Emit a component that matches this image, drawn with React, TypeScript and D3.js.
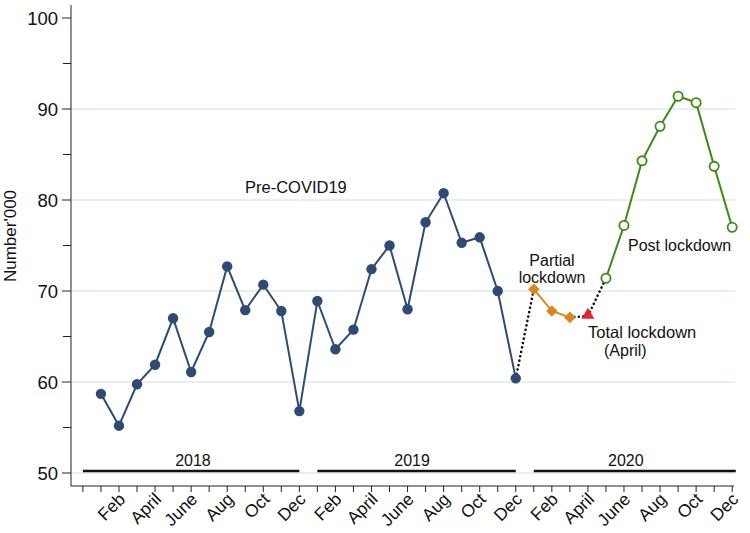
import { useEffect, useRef } from 'react';
import * as d3 from 'd3';

// month index 0 = Jan 2018 ... 35 = Dec 2020
const preCovid = [
  58.7, 55.2, 59.75, 61.9, 67.0, 61.1, 65.5, 72.7, 67.9, 70.7, 67.8, 56.8,
  68.9, 63.6, 65.75, 72.4, 75.0, 68.0, 77.55, 80.75, 75.3, 75.9, 70.0, 60.4,
];
const partial = [70.2, 67.8, 67.1]; // Jan-Mar 2020
const totalLockdown = 67.25; // Apr 2020
const postLockdown = [71.4, 77.2, 84.3, 88.1, 91.4, 90.7, 83.7, 77.0]; // May-Dec 2020

const monthLabels = ['Feb', 'April', 'June', 'Aug', 'Oct', 'Dec'];
const years = ['2018', '2019', '2020'];
const yearBarStart = [-1, 12, 24];
const yearBarEnd = [11, 23, 35.2];
const yearLabelPos = [5.1, 17.25, 29.1];
const yTicks = [50, 60, 70, 80, 90, 100];
const yMinor = [55, 65, 75, 85, 95];

const FONT = 'Liberation Sans, Arial, sans-serif';
const BLUE = '#2f4a75';
const ORANGE = '#d6891c';
const GREEN = '#3d8a15';
const RED = '#e8212b';

const App = () => {
  const svgRef = useRef<SVGSVGElement | null>(null);
  const width = 750;
  const height = 533;

  useEffect(() => {
    const svg = d3.select(svgRef.current);
    svg.selectAll('*').remove();

    const x = d3.scaleLinear().domain([-1.66, 35.1]).range([71, 734]);
    const y = d3.scaleLinear().domain([50, 100]).range([473, 18]);
    const yBottom = 486;
    const yTop = 5;

    // gridlines
    svg.append('g')
      .selectAll('line')
      .data(yTicks.filter(v => v < 100))
      .enter()
      .append('line')
      .attr('x1', 72)
      .attr('x2', 735)
      .attr('y1', d => y(d))
      .attr('y2', d => y(d))
      .attr('stroke', '#e1eaef')
      .attr('stroke-width', 1.4);

    // y axis
    const yAxis = svg.append('g');
    yAxis.append('line')
      .attr('x1', 71).attr('x2', 71)
      .attr('y1', yTop).attr('y2', yBottom)
      .attr('stroke', '#222').attr('stroke-width', 1);
    yAxis.selectAll('.ymaj')
      .data(yTicks)
      .enter()
      .append('line')
      .attr('x1', 62).attr('x2', 71)
      .attr('y1', d => y(d)).attr('y2', d => y(d))
      .attr('stroke', '#222');
    yAxis.selectAll('.ymin')
      .data(yMinor)
      .enter()
      .append('line')
      .attr('x1', 63).attr('x2', 71)
      .attr('y1', d => y(d)).attr('y2', d => y(d))
      .attr('stroke', '#222');
    yAxis.selectAll('text')
      .data(yTicks)
      .enter()
      .append('text')
      .attr('x', 58)
      .attr('y', d => y(d))
      .attr('dy', '0.36em')
      .attr('text-anchor', 'end')
      .attr('font-family', FONT)
      .attr('font-size', 18.5)
      .attr('fill', '#111')
      .text(d => d);

    svg.append('text')
      .attr('transform', 'translate(16, 236) rotate(-90)')
      .attr('text-anchor', 'middle')
      .attr('font-family', FONT)
      .attr('font-size', 17)
      .attr('fill', '#111')
      .text("Number'000");

    // x axis
    const xAxis = svg.append('g');
    xAxis.append('line')
      .attr('x1', 71).attr('x2', 734)
      .attr('y1', yBottom).attr('y2', yBottom)
      .attr('stroke', '#222');
    const tickIdx = d3.range(-1, 36);
    xAxis.selectAll('.xt')
      .data(tickIdx)
      .enter()
      .append('line')
      .attr('x1', d => x(d)).attr('x2', d => x(d))
      .attr('y1', yBottom).attr('y2', yBottom + 6)
      .attr('stroke', '#222');
    const labelIdx = d3.range(0, 3).flatMap(yr => monthLabels.map((m, k) => ({ m, i: yr * 12 + 1 + k * 2 })));
    xAxis.selectAll('text')
      .data(labelIdx)
      .enter()
      .append('text')
      .attr('transform', d => `translate(${x(d.i) + 3}, ${yBottom + 10}) rotate(-45)`)
      .attr('text-anchor', 'end')
      .attr('dy', '0.35em')
      .attr('font-family', FONT)
      .attr('font-size', 17.5)
      .attr('fill', '#111')
      .text(d => d.m);

    // year bars
    years.forEach((yr, k) => {
      svg.append('line')
        .attr('x1', x(yearBarStart[k]))
        .attr('x2', x(yearBarEnd[k]))
        .attr('y1', 471).attr('y2', 471)
        .attr('stroke', '#111')
        .attr('stroke-width', 2.6);
      svg.append('text')
        .attr('x', x(yearLabelPos[k]))
        .attr('y', 466)
        .attr('text-anchor', 'middle')
        .attr('font-family', FONT)
        .attr('font-size', 16)
        .attr('fill', '#111')
        .text(yr);
    });

    const line = d3.line<[number, number]>().x(d => x(d[0])).y(d => y(d[1]));

    // dotted connectors
    const dotted: [number, number][][] = [
      [[23, preCovid[23]], [24, partial[0]]],
      [[26, partial[2]], [27, totalLockdown]],
      [[27, totalLockdown], [28, postLockdown[0]]],
    ];
    dotted.forEach(seg => {
      svg.append('path')
        .attr('d', line(seg))
        .attr('fill', 'none')
        .attr('stroke', '#111')
        .attr('stroke-width', 2.6)
        .attr('stroke-linecap', 'round')
        .attr('stroke-dasharray', '0.1 4.4');
    });

    // pre-covid
    const pre: [number, number][] = preCovid.map((v, i) => [i, v]);
    svg.append('path')
      .attr('d', line(pre))
      .attr('fill', 'none')
      .attr('stroke', BLUE)
      .attr('stroke-width', 2);
    svg.append('g')
      .selectAll('circle')
      .data(pre)
      .enter()
      .append('circle')
      .attr('cx', d => x(d[0]))
      .attr('cy', d => y(d[1]))
      .attr('r', 5.2)
      .attr('fill', BLUE);

    // partial lockdown
    const part: [number, number][] = partial.map((v, i) => [24 + i, v]);
    svg.append('path')
      .attr('d', line(part))
      .attr('fill', 'none')
      .attr('stroke', ORANGE)
      .attr('stroke-width', 2);
    svg.append('g')
      .selectAll('path')
      .data(part)
      .enter()
      .append('path')
      .attr('d', d3.symbol(d3.symbolDiamond2, 85)())
      .attr('transform', d => `translate(${x(d[0])}, ${y(d[1])})`)
      .attr('fill', ORANGE);

    // total lockdown
    svg.append('path')
      .attr('d', d3.symbol(d3.symbolTriangle, 70)())
      .attr('transform', `translate(${x(27)}, ${y(totalLockdown) - 1})`)
      .attr('fill', RED);

    // post lockdown
    const post: [number, number][] = postLockdown.map((v, i) => [28 + i, v]);
    svg.append('path')
      .attr('d', line(post))
      .attr('fill', 'none')
      .attr('stroke', GREEN)
      .attr('stroke-width', 2);
    svg.append('g')
      .selectAll('circle')
      .data(post)
      .enter()
      .append('circle')
      .attr('cx', d => x(d[0]))
      .attr('cy', d => y(d[1]))
      .attr('r', 4.6)
      .attr('fill', 'white')
      .attr('stroke', GREEN)
      .attr('stroke-width', 1.8);

    // annotations
    const note = (tx: number, ty: number, t: string, size: number, anchor = 'start') =>
      svg.append('text')
        .attr('x', tx).attr('y', ty)
        .attr('text-anchor', anchor)
        .attr('font-family', FONT)
        .attr('font-size', size)
        .attr('fill', '#111')
        .text(t);
    note(245, 193, 'Pre-COVID19', 16.5);
    note(552, 266, 'Partial', 16, 'middle');
    note(552, 283, 'lockdown', 16, 'middle');
    note(588, 338, 'Total lockdown', 16.5);
    note(604, 356, '(April)', 16);
    note(628, 251, 'Post lockdown', 16);
  }, []);

  return (
    <div className="chart-container">
      <svg
        ref={svgRef}
        width={width}
        height={height}
        style={{ position: 'absolute', left: 0, top: 0, background: 'white' }}
      ></svg>
    </div>
  );
};

export default App;
